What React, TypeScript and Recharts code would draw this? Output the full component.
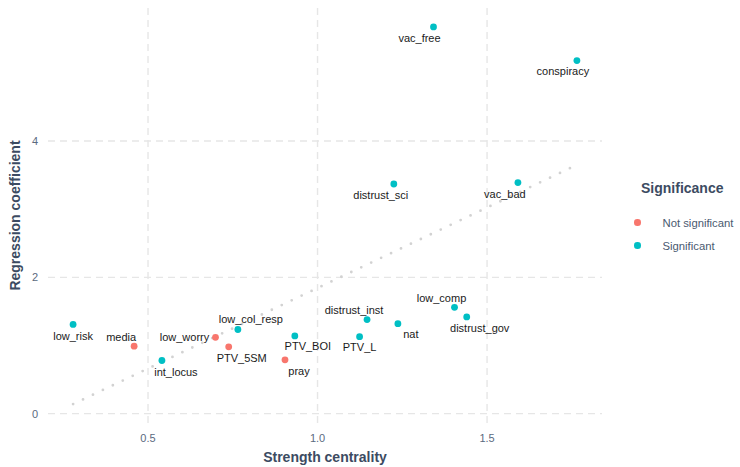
// Strength centrality vs regression coefficient, coloured by significance.
import {
  ReferenceLine,
  Scatter,
  ScatterChart,
  XAxis,
  YAxis,
} from "recharts";

const labels = [
  "low_risk", "media", "int_locus", "low_worry", "low_col_resp", "PTV_5SM",
  "PTV_BOI", "pray", "PTV_L", "distrust_inst", "nat", "low_comp",
  "distrust_gov", "distrust_sci", "vac_bad", "vac_free", "conspiracy",
];
const strength = [
  0.279, 0.459, 0.541, 0.699, 0.765, 0.738, 0.933, 0.904, 1.124, 1.146,
  1.237, 1.404, 1.44, 1.225, 1.591, 1.342, 1.765,
];
const coefficient = [
  1.31, 0.99, 0.78, 1.12, 1.235, 0.98, 1.14, 0.79, 1.13, 1.38, 1.32, 1.56,
  1.42, 3.37, 3.39, 5.675, 5.18,
];
const significant = [
  true, false, true, false, true, false, true, false, true, true, true, true,
  true, true, true, true, true,
];
// dotted trend line end points
const trendX = [0.279, 1.765];
const trendY = [0.14, 3.65];

const xTicks = [0.5, 1.0, 1.5];
const yTicks = [0, 2, 4];

const RED = "#F8766D";
const TEAL = "#00BFC4";
const TITLE = "#3C4B62";
const TICK = "#5B6A80";
const GRID = "#E6E6E6";
const FONT = "'Liberation Sans', Arial, Helvetica, sans-serif";

// label placement around each point: [dx, dy] of the text centre
const labelOffset: Record<string, [number, number]> = {
  low_risk: [0, 11.5],
  media: [-13, -9],
  int_locus: [14, 11],
  low_worry: [-31, 0],
  low_col_resp: [13, -10],
  PTV_5SM: [13, 11],
  PTV_BOI: [13, 10],
  pray: [14, 11],
  PTV_L: [0, 10],
  distrust_inst: [-13, -10],
  nat: [13, 10],
  low_comp: [-13, -9],
  distrust_gov: [13, 11],
  distrust_sci: [-13, 11],
  vac_bad: [-13, 11],
  vac_free: [-14, 11],
  conspiracy: [-14, 10],
};

type Pt = { name: string; x: number; y: number };

const rows: Pt[] = labels.map((name, i) => ({
  name,
  x: strength[i],
  y: coefficient[i],
}));
const notSig = rows.filter((_, i) => !significant[i]);
const sig = rows.filter((_, i) => significant[i]);

function makeShape(color: string) {
  return (props: any) => {
    const { cx, cy, payload } = props;
    const [dx, dy] = labelOffset[payload.name] ?? [0, 10];
    return (
      <g>
        <circle cx={cx} cy={cy} r={3.4} fill={color} />
        <text
          x={cx + dx}
          y={cy + dy}
          textAnchor="middle"
          dominantBaseline="central"
          fontSize={11}
          fontFamily={FONT}
          fill="#1a1a1a"
        >
          {payload.name}
        </text>
      </g>
    );
  };
}

function SigLegend() {
  const items = [
    { label: "Not significant", color: RED },
    { label: "Significant", color: TEAL },
  ];
  return (
    <div
      style={{
        position: "absolute",
        left: 634,
        top: 180,
        width: 106,
        fontFamily: FONT,
      }}
    >
      <div
        style={{
          fontSize: 14,
          fontWeight: 700,
          color: TITLE,
          marginBottom: 15,
          marginLeft: 7,
        }}
      >
        Significance
      </div>
      {items.map((it) => (
        <div
          key={it.label}
          style={{ display: "flex", alignItems: "center", height: 23 }}
        >
          <span
            style={{
              width: 6.5,
              height: 6.5,
              borderRadius: "50%",
              background: it.color,
              display: "inline-block",
              marginRight: 22,
            }}
          />
          <span style={{ fontSize: 11.3, color: "#4A5A70" }}>{it.label}</span>
        </div>
      ))}
    </div>
  );
}

export default function App() {
  return (
    <div
      style={{
        position: "absolute",
        left: 0,
        top: 0,
        width: 740,
        height: 467,
        background: "#fff",
      }}
    >
      <ScatterChart
        width={740}
        height={467}
        margin={{ top: 8, right: 138, bottom: 0, left: 0 }}
      >
        <XAxis
          type="number"
          dataKey="x"
          domain={[0.205, 1.839]}
          ticks={xTicks}
          tickFormatter={(v: number) => v.toFixed(1)}
          axisLine={false}
          tickLine={false}
          tickMargin={5}
          height={44}
          tick={{ fontSize: 11, fill: TICK, fontFamily: FONT }}
          allowDataOverflow
          label={{
            value: "Strength centrality",
            position: "insideBottom",
            offset: 0,
            dy: -5,
            style: { fontSize: 14, fontWeight: 700, fill: TITLE, fontFamily: FONT },
          }}
        />
        <YAxis
          type="number"
          dataKey="y"
          domain={[-0.137, 5.952]}
          ticks={yTicks}
          axisLine={false}
          tickLine={false}
          tickMargin={4}
          width={48}
          tick={{ fontSize: 11, fill: TICK, fontFamily: FONT }}
          allowDataOverflow
          label={{
            value: "Regression coefficient",
            angle: -90,
            position: "insideLeft",
            offset: 0,
            dx: 15,
            style: {
              fontSize: 14,
              fontWeight: 700,
              fill: TITLE,
              fontFamily: FONT,
              textAnchor: "middle",
            },
          }}
        />
        {yTicks.map((t) => (
          <ReferenceLine
            key={`gy${t}`}
            y={t}
            stroke={GRID}
            strokeWidth={1.4}
            strokeDasharray="7 5"
          />
        ))}
        {xTicks.map((t) => (
          <ReferenceLine
            key={`gx${t}`}
            x={t}
            stroke={GRID}
            strokeWidth={1.4}
            strokeDasharray="7 5"
          />
        ))}
        <ReferenceLine
          segment={[
            { x: trendX[0], y: trendY[0] },
            { x: trendX[1], y: trendY[1] },
          ]}
          stroke="#D2D2D2"
          strokeWidth={2.8}
          strokeDasharray="0 11"
          strokeLinecap="round"
          ifOverflow="visible"
        />
        <Scatter
          name="Not significant"
          data={notSig}
          fill={RED}
          shape={makeShape(RED)}
          isAnimationActive={false}
        />
        <Scatter
          name="Significant"
          data={sig}
          fill={TEAL}
          shape={makeShape(TEAL)}
          isAnimationActive={false}
        />
      </ScatterChart>
      <SigLegend />
    </div>
  );
}
